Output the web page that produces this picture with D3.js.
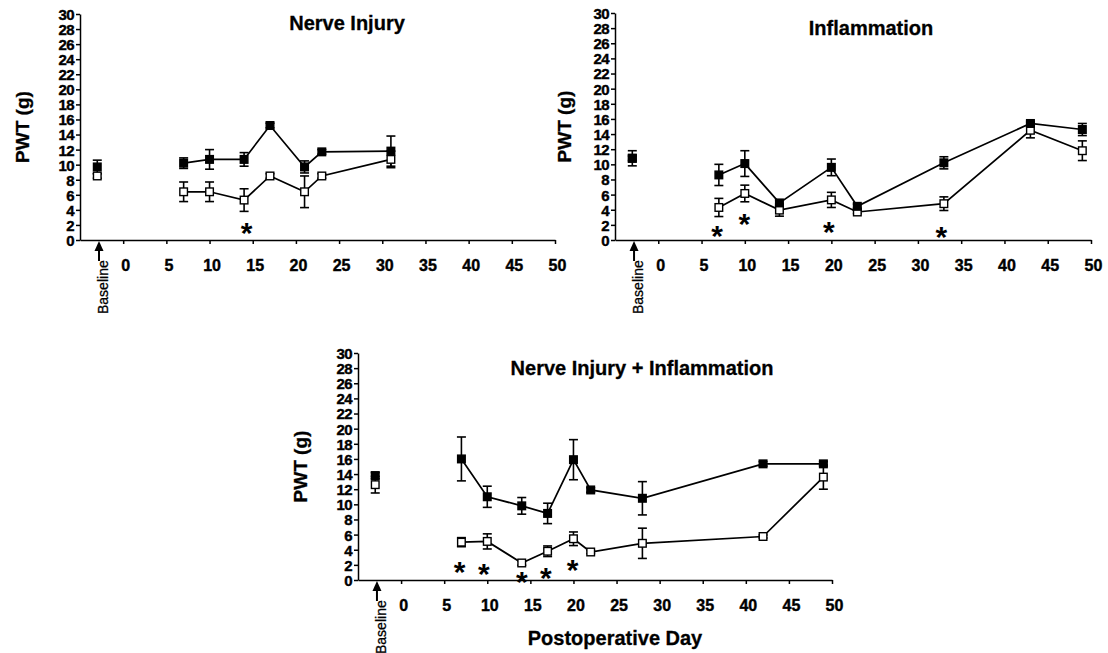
<!DOCTYPE html>
<html>
<meta charset="utf-8">
<head>
<style>
    body { margin: 0; background: white; }
    text { font-family: "Liberation Sans", Arial, sans-serif; fill: black; }
    .axis path, .axis line { stroke: black; stroke-width: 1.5px; }
    .axis text { font-weight: bold; stroke: black; stroke-width: 0.4px; }
    .title { font-size: 20px; font-weight: bold; text-anchor: middle; stroke: black; stroke-width: 0.3px; }
    .ylab { font-size: 19px; font-weight: bold; text-anchor: middle; stroke: black; stroke-width: 0.3px; }
    .star { font-size: 30px; font-weight: bold; text-anchor: middle; }
    .baseline_lab { font-size: 14px; text-anchor: start; stroke: black; stroke-width: 0.3px; }
</style>
</head>
<body>
<div id="viz"></div>
<script src="https://cdn.jsdelivr.net/npm/d3@7"></script>
<script>
const width = 1108;
const height = 653;

// first entry of every series is the baseline reading (drawn left of day 0)
const titles = ["Nerve Injury", "Inflammation", "Nerve Injury + Inflammation"];

const ni_days = [-3, 7, 10, 14, 17, 21, 23, 31];
const ni_filled = [9.7, 10.2, 10.7, 10.7, 15.2, 9.7, 11.7, 11.8];
const ni_filledErr = [0.9, 0.7, 1.3, 0.9, 0.3, 0.8, 0.3, 2.0];
const ni_open = [8.5, 6.4, 6.4, 5.3, 8.5, 6.4, 8.5, 10.7];
const ni_openErr = [0.3, 1.3, 1.3, 1.5, 0.3, 2.1, 0.3, 1.1];
const ni_starDays = [14.3];
const ni_starVals = [1.9];

const inf_days = [-3, 7, 10, 14, 20, 23, 33, 43, 49];
const inf_filled = [10.8, 8.6, 10.1, 4.9, 9.6, 4.45, 10.2, 15.4, 14.6];
const inf_filledErr = [1.0, 1.4, 1.7, 0.4, 1.1, 0.3, 0.8, 0.3, 0.8];
const inf_open = [10.8, 4.3, 6.15, 3.95, 5.3, 3.7, 4.8, 14.5, 11.8];
const inf_openErr = [0.3, 1.2, 1.1, 0.8, 1.0, 0.2, 0.9, 1.0, 1.3];
const inf_starDays = [6.8, 9.95, 19.7, 32.7];
const inf_starVals = [1.5, 3.0, 2.0, 1.3];

const both_days = [-3, 7, 10, 14, 17, 20, 22, 28, 42, 49];
const both_filled = [13.8, 16.0, 11.0, 9.8, 8.8, 15.9, 11.9, 10.8, 15.35, 15.35];
const both_filledErr = [0.4, 2.9, 1.4, 1.1, 1.35, 2.65, 0.3, 2.2, 0.3, 0.3];
const both_open = [12.6, 5.0, 5.1, 2.25, 3.8, 5.45, 3.7, 4.85, 5.75, 13.6];
const both_openErr = [1.1, 0.6, 1.0, 0.3, 0.7, 0.9, 0.2, 2.0, 0.2, 1.6];
const both_starDays = [6.8, 9.6, 14.0, 16.8, 19.9];
const both_starVals = [2.0, 1.75, 0.7, 1.2, 2.3];

const xTicks = d3.range(0, 51, 5);
const yTicks = d3.range(0, 31, 2);
const arrowDay = -2.8;

const panels = [
    { title: titles[0], days: ni_days, filled: ni_filled, filledErr: ni_filledErr, open: ni_open, openErr: ni_openErr,
      starDays: ni_starDays, starVals: ni_starVals,
      left: 80, right: 555, top: 14, bottom: 240, titleX: 347, titleY: 30, ylabX: 29 },
    { title: titles[1], days: inf_days, filled: inf_filled, filledErr: inf_filledErr, open: inf_open, openErr: inf_openErr,
      starDays: inf_starDays, starVals: inf_starVals,
      left: 615, right: 1091, top: 13, bottom: 240, titleX: 871, titleY: 35, ylabX: 571 },
    { title: titles[2], days: both_days, filled: both_filled, filledErr: both_filledErr, open: both_open, openErr: both_openErr,
      starDays: both_starDays, starVals: both_starVals,
      left: 358, right: 832, top: 353, bottom: 580, titleX: 642, titleY: 375, ylabX: 307, xTitle: "Postoperative Day" }
];

const svg = d3.select("#viz")
    .append("svg")
    .attr("width", width)
    .attr("height", height);

panels.forEach(p => drawPanel(p));

function drawPanel(p) {
    const x = d3.scaleLinear().domain([-5, 50]).range([p.left, p.right]);
    const y = d3.scaleLinear().domain([0, 30]).range([p.bottom, p.top]);
    const g = svg.append("g");

    const xAxis = g.append("g")
        .attr("class", "axis")
        .attr("transform", "translate(0," + p.bottom + ")")
        .call(d3.axisBottom(x).tickValues(xTicks).tickSize(4).tickSizeOuter(0));
    xAxis.selectAll("text")
        .attr("y", 31).attr("dy", 0).attr("dx", 2)
        .style("font-size", "16px");

    const yAxis = g.append("g")
        .attr("class", "axis")
        .attr("transform", "translate(" + p.left + ",0)")
        .call(d3.axisLeft(y).tickValues(yTicks).tickSize(4).tickPadding(2).tickSizeOuter(0));
    yAxis.selectAll("text")
        .style("font-size", "15px")
        .attr("dy", "0.36em")
        .attr("letter-spacing", "-0.6px");

    // baseline arrow + label
    const ax = x(arrowDay);
    g.append("line")
        .attr("x1", ax).attr("x2", ax)
        .attr("y1", p.bottom + 8).attr("y2", p.bottom + 21)
        .attr("stroke", "black").attr("stroke-width", 2);
    g.append("path")
        .attr("d", "M" + ax + "," + (p.bottom + 1) + "l-4.5,10h9z")
        .attr("fill", "black");
    g.append("text")
        .attr("class", "baseline_lab")
        .attr("transform", "translate(" + (ax + 9) + "," + (p.bottom + 74) + ") rotate(-90)")
        .text("Baseline");

    g.append("text")
        .attr("class", "title")
        .attr("x", p.titleX).attr("y", p.titleY)
        .text(p.title);

    g.append("text")
        .attr("class", "ylab")
        .attr("transform", "translate(" + p.ylabX + "," + ((p.top + p.bottom) / 2) + ") rotate(-90)")
        .text("PWT (g)");

    if (p.xTitle) {
        g.append("text")
            .attr("class", "title")
            .attr("x", 615).attr("y", 645)
            .text(p.xTitle);
    }

    const series = [
        { vals: p.open, errs: p.openErr, fill: "white" },
        { vals: p.filled, errs: p.filledErr, fill: "black" }
    ];

    series.forEach(s => {
        const pts = p.days.map((d, i) => ({ day: d, v: s.vals[i], e: s.errs[i] }));

        const eb = g.append("g").selectAll("g")
            .data(pts)
            .enter().append("g")
            .attr("stroke", "black").attr("stroke-width", 1.6);
        eb.append("line")
            .attr("x1", d => x(d.day)).attr("x2", d => x(d.day))
            .attr("y1", d => y(d.v - d.e)).attr("y2", d => y(d.v + d.e));
        eb.append("line")
            .attr("x1", d => x(d.day) - 4.5).attr("x2", d => x(d.day) + 4.5)
            .attr("y1", d => y(d.v - d.e)).attr("y2", d => y(d.v - d.e));
        eb.append("line")
            .attr("x1", d => x(d.day) - 4.5).attr("x2", d => x(d.day) + 4.5)
            .attr("y1", d => y(d.v + d.e)).attr("y2", d => y(d.v + d.e));

        const line = d3.line().x(d => x(d.day)).y(d => y(d.v));
        g.append("path")
            .datum(pts.slice(1))
            .attr("d", line)
            .attr("fill", "none")
            .attr("stroke", "black")
            .attr("stroke-width", 1.7);

        s.pts = pts;
    });

    series.forEach(s => {
        g.append("g").selectAll("rect")
            .data(s.pts)
            .enter().append("rect")
            .attr("x", d => x(d.day) - 3.8)
            .attr("y", d => y(d.v) - 3.8)
            .attr("width", 7.6).attr("height", 7.6)
            .attr("fill", s.fill)
            .attr("stroke", "black")
            .attr("stroke-width", 1.4);
    });

    g.selectAll(".star")
        .data(p.starDays)
        .enter().append("text")
        .attr("class", "star")
        .attr("x", d => x(d))
        .attr("y", (d, i) => y(p.starVals[i]) + 17)
        .text("*");
}
</script>
</body>
</html>
